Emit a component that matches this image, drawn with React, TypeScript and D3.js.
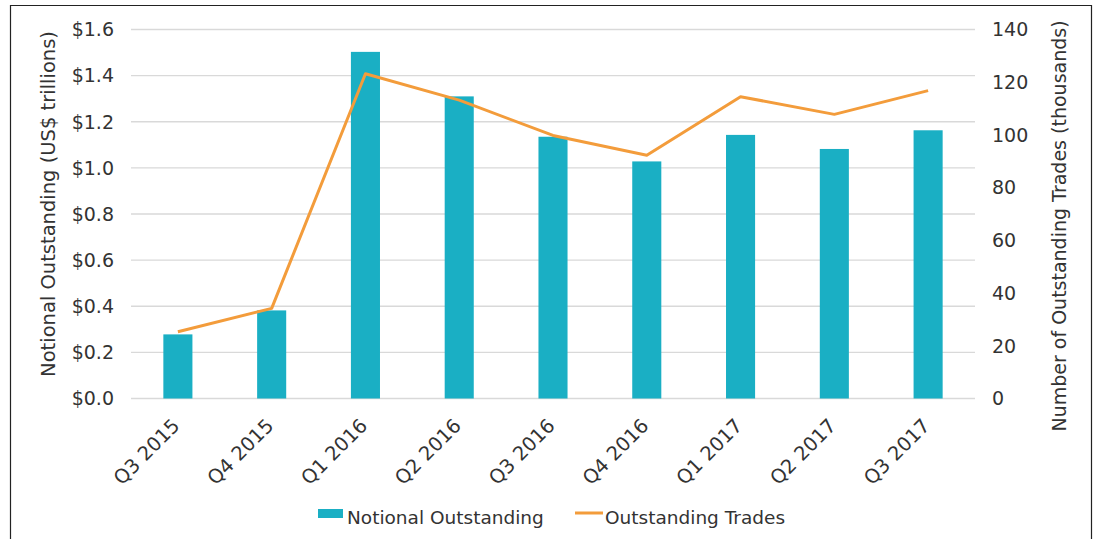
import * as d3 from "d3";

const quarters = ["Q3 2015", "Q4 2015", "Q1 2016", "Q2 2016", "Q3 2016", "Q4 2016", "Q1 2017", "Q2 2017", "Q3 2017"];
const notional = [0.278, 0.382, 1.503, 1.31, 1.135, 1.028, 1.143, 1.082, 1.163];
const trades = [25.3, 34.2, 123.2, 113.2, 99.8, 92.3, 114.5, 107.8, 116.8];
const leftTicks = [0, 0.2, 0.4, 0.6, 0.8, 1.0, 1.2, 1.4, 1.6];
const rightTicks = [0, 20, 40, 60, 80, 100, 120, 140];

const W = 1098;
const H = 539;
const FONT = "'DejaVu Sans', Verdana, sans-serif";
const TEXT = "#333";
const BAR = "#1aafc4";
const LINE = "#f39c3b";

export default function App() {
  const x = d3.scaleBand().domain(quarters).range([131, 975]).paddingInner(0.69).paddingOuter(0.345);
  const yL = d3.scaleLinear().domain([0, 1.6]).range([398.5, 29.5]);
  const yR = d3.scaleLinear().domain([0, 140]).range([398.5, 29.5]);
  const cx = (q: string) => (x(q) ?? 0) + x.bandwidth() / 2;
  const line = d3
    .line<number>()
    .x((_, i) => cx(quarters[i]))
    .y((d) => yR(d));

  return (
    <svg width={W} height={H} style={{ position: "absolute", left: 0, top: 0 }} fontFamily={FONT}>
      <rect x={0} y={0} width={W} height={H} fill="#fff" />
      <path d={`M10.5,${H + 2}V5.5H1091.5V${H + 2}`} fill="none" stroke="#222" strokeWidth={1.2} />
      {leftTicks.map((t) => (
        <g key={t}>
          <line x1={131} x2={975} y1={yL(t)} y2={yL(t)} stroke="#d9d9d9" strokeWidth={1.3} />
          <text x={114} y={yL(t)} dy="0.36em" textAnchor="end" fontSize={19} fill={TEXT}>
            {d3.format("$.1f")(t)}
          </text>
        </g>
      ))}
      {rightTicks.map((t) => (
        <text key={t} x={992} y={yR(t)} dy="0.36em" textAnchor="start" fontSize={19} fill={TEXT}>
          {t}
        </text>
      ))}
      {quarters.map((q, i) => (
        <rect key={q} x={x(q)} y={yL(notional[i])} width={x.bandwidth()} height={yL(0) - yL(notional[i])} fill={BAR} />
      ))}
      <path d={line(trades) ?? ""} fill="none" stroke={LINE} strokeWidth={3} strokeLinejoin="round" />
      {quarters.map((q) => (
        <text
          key={q}
          transform={`translate(${cx(q) + 3},${427}) rotate(-45)`}
          textAnchor="end"
          fontSize={19.5}
          fill={TEXT}
        >
          {q}
        </text>
      ))}
      <text transform={`translate(55,204) rotate(-90)`} textAnchor="middle" fontSize={19.5} fill={TEXT}>
        Notional Outstanding (US$ trillions)
      </text>
      <text transform={`translate(1066,226) rotate(-90)`} textAnchor="middle" fontSize={19} fill={TEXT}>
        Number of Outstanding Trades (thousands)
      </text>
      <rect x={318} y={509} width={25} height={9} fill={BAR} />
      <text x={347} y={517} dy="0.36em" fontSize={18.5} fill={TEXT}>
        Notional Outstanding
      </text>
      <line x1={575} x2={603} y1={513} y2={513} stroke={LINE} strokeWidth={3} />
      <text x={605} y={517} dy="0.36em" fontSize={18.5} fill={TEXT}>
        Outstanding Trades
      </text>
    </svg>
  );
}
